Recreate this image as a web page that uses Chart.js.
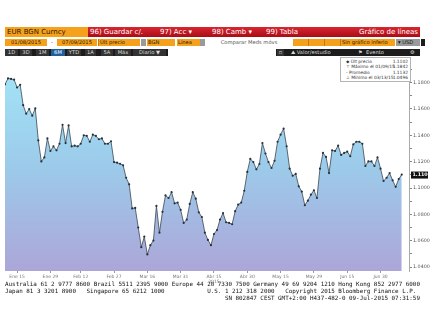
<!DOCTYPE html>
<html lang="es">
<head>
  <meta charset="UTF-8">
  <title>EUR BGN Curncy</title>
  <script src="https://cdn.jsdelivr.net/npm/chart.js"></script>
  <style>
    body {
      margin: 0;
      width: 432px;
      height: 309px;
      background: #fff;
      position: relative;
      overflow: hidden;
      font-family: "DejaVu Sans", sans-serif;
    }
    .b {
      position: absolute;
      box-sizing: border-box;
      white-space: nowrap;
      overflow: hidden;
    }
    .r1 { top: 27px; height: 10px; font-size: 7px; line-height: 10px; }
    .r2 { top: 39px; height: 7px; font-size: 5.2px; line-height: 7px; }
    .r3 { top: 49px; height: 7px; font-size: 5.2px; line-height: 7px; }
    .org { background: #f6a11c; color: #2b1800; }
    .red { background: linear-gradient(#d92630, #a80c16); color: #fff; }
    .gry { background: #9a9a9a; color: #111; }
    .drk { background: #1c1c1c; color: #ddd; }
    .btn { background: #333; color: #ddd; text-align: center; }
    .sel { background: #1e5f9e; color: #fff; }
    #chartWrap { position: absolute; left: 0; top: 57px; }
    #legend {
      position: absolute;
      left: 340px;
      top: 57px;
      width: 71px;
      height: 25px;
      background: #fff;
      border: 1px solid #b4b4b4;
      box-sizing: border-box;
      font-size: 4.4px;
      line-height: 5.6px;
      color: #333;
      padding: 0.5px 2px 0 5px;
    }
    #legend div { position: relative; white-space: nowrap; }
    #legend span { position: absolute; right: 0; }
    #footer {
      position: absolute;
      left: 5px;
      top: 281px;
      font-family: "DejaVu Sans Mono", monospace;
      font-size: 5.9px;
      line-height: 7px;
      color: #111;
      white-space: pre;
    }
  </style>
</head>
<body>
  <!-- fila 1 -->
  <div class="b r1 org" style="left:5px;width:83px;padding-left:2px;">EUR BGN Curncy</div>
  <div class="b r1 red" style="left:88px;width:332px;"></div>
  <div class="b r1" style="left:90px;color:#fff;">96) Guardar c/.</div>
  <div class="b r1" style="left:160px;color:#fff;">97) Acc ▾</div>
  <div class="b r1" style="left:212px;color:#fff;">98) Camb ▾</div>
  <div class="b r1" style="left:266px;color:#fff;">99) Tabla</div>
  <div class="b r1" style="left:330px;width:88px;text-align:right;color:#fff;">Gráfico de líneas</div>

  <!-- fila 2 -->
  <div class="b r2 org" style="left:5px;width:42px;text-align:center;">01/08/2015</div>
  <div class="b r2" style="left:48px;width:8px;text-align:center;background:#fff;color:#333;">-</div>
  <div class="b r2 org" style="left:57px;width:40px;text-align:center;">07/09/2015</div>
  <div class="b r2 org" style="left:98px;width:42px;padding-left:1px;border-left:1px solid #c27a10;">Últ precio</div>
  <div class="b r2 gry" style="left:141px;width:5px;"></div>
  <div class="b r2 org" style="left:147px;width:28px;padding-left:1px;">BGN</div>
  <div class="b r2 org" style="left:177px;width:23px;padding-left:1px;">Línea</div>
  <div class="b r2 gry" style="left:200px;width:5px;"></div>
  <div class="b r2" style="left:205px;width:88px;text-align:center;color:#555;background:#fff;">Comparar Meds móvs</div>
  <div class="b r2 org" style="left:293px;width:16px;border-right:1px solid #c27a10;"></div>
  <div class="b r2 org" style="left:309px;width:16px;border-right:1px solid #c27a10;"></div>
  <div class="b r2 org" style="left:325px;width:16px;border-right:1px solid #c27a10;"></div>
  <div class="b r2 org" style="left:341px;width:54px;padding-left:1px;">Sin gráfico inferio</div>
  <div class="b r2 gry" style="left:396px;width:24px;padding-left:2px;">▾ USD</div>
  <div class="b r2 drk" style="left:421px;width:4px;"></div>

  <!-- fila 3 -->
  <div class="b r3 drk" style="left:5px;width:415px;"></div>
  <div class="b r3 btn" style="left:5px;width:13px;">1D</div>
  <div class="b r3 btn" style="left:20px;width:12px;">3D</div>
  <div class="b r3 btn" style="left:36px;width:13px;">1M</div>
  <div class="b r3 btn sel" style="left:51px;width:14px;">6M</div>
  <div class="b r3 btn" style="left:67px;width:14px;">YTD</div>
  <div class="b r3 btn" style="left:85px;width:11px;">1A</div>
  <div class="b r3 btn" style="left:101px;width:12px;">5A</div>
  <div class="b r3 btn" style="left:115px;width:16px;">Máx</div>
  <div class="b r3 btn" style="left:133px;width:33px;">Diario ▼</div>
  <div class="b r3" style="left:168px;width:108px;background:#fff;"></div>
  <div class="b r3 btn" style="left:277px;width:7px;">▫</div>
  <div class="b r3" style="left:291px;color:#ddd;">⛰ Valor/estudio</div>
  <div class="b r3" style="left:358px;color:#ddd;">⚑ &nbsp;Evento</div>
  <div class="b r3" style="left:410px;color:#ddd;">⚙</div>

  <div id="chartWrap"><canvas id="chart" width="432" height="226"></canvas></div>

  <div id="legend">
    <div>◆ Últ precio<span>1.1102</span></div>
    <div>⊤ Máximo el 01/09/15<span>1.1842</span></div>
    <div>‑ Promedio<span>1.1132</span></div>
    <div>⊥ Mínimo el 03/13/15<span>1.0496</span></div>
  </div>

  <div id="footer">Australia 61 2 9777 8600 Brazil 5511 2395 9000 Europe 44 20 7330 7500 Germany 49 69 9204 1210 Hong Kong 852 2977 6000
Japan 81 3 3201 8900   Singapore 65 6212 1000            U.S. 1 212 318 2000   Copyright 2015 Bloomberg Finance L.P.
                                                              SN 802847 CEST GMT+2:00 H437-482-0 09-Jul-2015 07:31:59</div>

  <script>
    // EUR/BGN, cierre diario 08/01/2015 - 08/07/2015
    const prices = [
      1.1787, 1.1832, 1.1828, 1.1822, 1.1763, 1.1783, 1.1629, 1.1564, 1.1599, 1.1549,
      1.1604, 1.1361, 1.1202, 1.1232, 1.1376, 1.1281, 1.1316, 1.1286, 1.1336, 1.1480,
      1.1341, 1.1475, 1.1316, 1.1321, 1.1316, 1.1336, 1.1400, 1.1396, 1.1351, 1.1405,
      1.1396, 1.1370, 1.1376, 1.1336, 1.1336, 1.1355, 1.1197, 1.1192, 1.1184, 1.1172,
      1.1078, 1.1028, 1.0845, 1.0849, 1.0700, 1.0551, 1.0631, 1.0496, 1.0566, 1.0601,
      1.0864, 1.0661, 1.0819, 1.0944, 1.0924, 1.0968, 1.0884, 1.0889, 1.0834, 1.0735,
      1.0760, 1.0879, 1.0968, 1.0919, 1.0815, 1.0780, 1.0661, 1.0606, 1.0566, 1.0651,
      1.0681, 1.0760, 1.0810, 1.0740, 1.0735, 1.0725, 1.0824, 1.0874, 1.0889, 1.0979,
      1.1122, 1.1221, 1.1197, 1.1142, 1.1182, 1.1341, 1.1262, 1.1197, 1.1152, 1.1207,
      1.1351, 1.1405, 1.1450, 1.1316, 1.1147, 1.1093, 1.1107, 1.1013, 1.0973, 1.0869,
      1.0904, 1.0949, 1.0983, 1.0924, 1.1147, 1.1266, 1.1236, 1.1113, 1.1286, 1.1281,
      1.1321, 1.1251, 1.1266, 1.1276, 1.1241, 1.1331, 1.1351, 1.1351, 1.1336, 1.1167,
      1.1202, 1.1202, 1.1167, 1.1232, 1.1147, 1.1053, 1.1078, 1.1113, 1.1058, 1.1009,
      1.1068, 1.1102
    ];
    const xTickIdx = [4, 15, 25, 36, 47, 58, 69, 80, 91, 102, 113, 124];
    const xTickText = ["Ene 15", "Ene 29", "Feb 12", "Feb 27", "Mar 16", "Mar 31",
                       "Abr 15", "Abr 30", "May 15", "May 29", "Jun 15", "Jun 30"];
    const yearIdx = 69;
    const yearText = "2015";
    const yLabels = ["1.0400", "1.0600", "1.0800", "1.1000", "1.1200", "1.1400", "1.1600", "1.1800"];
    const lastPrice = 1.1102;

    const points = prices.map((v, i) => ({ x: i, y: v }));

    const lastTag = {
      id: "lastTag",
      afterDraw(chart) {
        const { ctx } = chart;
        const y = chart.scales.y.getPixelForValue(lastPrice);
        const x = chart.scales.y.left + 2;
        ctx.save();
        ctx.fillStyle = "#111";
        ctx.fillRect(x, y - 3, 17, 7);
        ctx.fillStyle = "#fff";
        ctx.font = "bold 4.8px 'DejaVu Sans'";
        ctx.textBaseline = "middle";
        ctx.fillText(lastPrice.toFixed(4), x + 1.5, y + 0.5);
        ctx.restore();
      }
    };

    new Chart(document.getElementById("chart").getContext("2d"), {
      type: "line",
      data: {
        datasets: [{
          data: points,
          borderColor: "#3a4652",
          borderWidth: 0.8,
          pointRadius: 1.1,
          pointBorderWidth: 0,
          pointBackgroundColor: "#27313c",
          tension: 0,
          fill: "start",
          backgroundColor: ctx => {
            const area = ctx.chart.chartArea;
            if (!area) return "#a0d8ee";
            const g = ctx.chart.ctx.createLinearGradient(0, area.top, 0, area.bottom);
            g.addColorStop(0, "#a3e6f7");
            g.addColorStop(0.5, "#9ccbea");
            g.addColorStop(1, "#aca6d8");
            return g;
          }
        }]
      },
      options: {
        responsive: false,
        animation: false,
        layout: { padding: { left: 5, right: 0, top: 0, bottom: 0 } },
        plugins: {
          legend: { display: false },
          tooltip: { enabled: false }
        },
        scales: {
          x: {
            type: "linear",
            min: 0,
            max: 133.4,
            afterBuildTicks: s => { s.ticks = xTickIdx.map(v => ({ value: v })); },
            afterFit: s => { s.height = 12; s.paddingLeft = 0; s.paddingRight = 0; },
            grid: { drawOnChartArea: false, tickLength: 2, color: "#999" },
            border: { display: false },
            ticks: {
              autoSkip: false,
              maxRotation: 0,
              padding: 1,
              color: "#777",
              font: { family: "DejaVu Sans", size: 4.5, lineHeight: 1.1 },
              callback: v => {
                const k = xTickIdx.indexOf(v);
                if (k < 0) return "";
                return v === yearIdx ? [xTickText[k], yearText] : xTickText[k];
              }
            }
          },
          y: {
            position: "right",
            min: 1.037,
            max: 1.1964,
            afterFit: s => { s.width = 23; s.paddingTop = 0; s.paddingBottom = 0; },
            grid: { drawOnChartArea: false, tickLength: 3, color: "#888" },
            border: { color: "#aaa", width: 1 },
            ticks: {
              stepSize: 0.01,
              includeBounds: false,
              autoSkip: false,
              padding: 1,
              color: "#555",
              font: { family: "DejaVu Sans", size: 4.8 },
              callback: v => {
                const t = v.toFixed(4);
                return yLabels.includes(t) ? t : "";
              }
            }
          }
        }
      },
      plugins: [lastTag]
    });
  </script>
</body>
</html>
